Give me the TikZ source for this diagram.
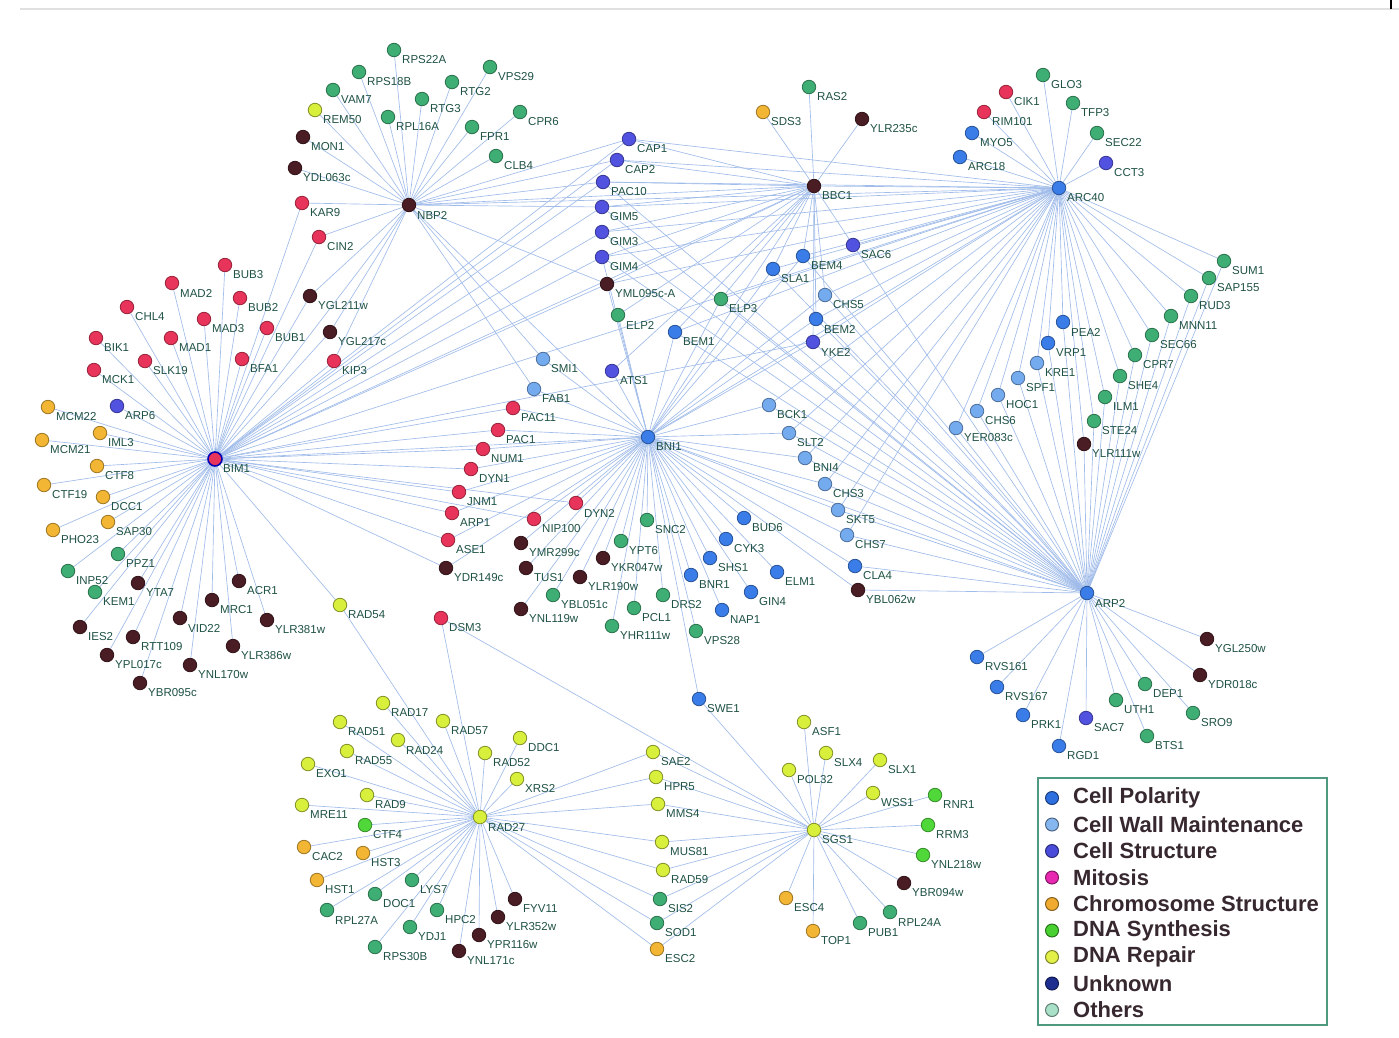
\documentclass[tikz,border=0pt]{standalone}
\usepackage{fontspec}
\newfontfamily\labfont{Liberation Sans}
\usetikzlibrary{backgrounds}
\definecolor{colR}{HTML}{E8345A}
\definecolor{colO}{HTML}{F2B534}
\definecolor{colG}{HTML}{3FAE74}
\definecolor{colU}{HTML}{4A1C24}
\definecolor{colY}{HTML}{D8F03C}
\definecolor{colS}{HTML}{50D83A}
\definecolor{colB}{HTML}{3A7DE8}
\definecolor{colW}{HTML}{74AAEE}
\definecolor{colV}{HTML}{5252E0}
\definecolor{edgec}{HTML}{A0BCEA}
\definecolor{labc}{HTML}{1F5244}
\definecolor{legbox}{HTML}{4F9A7F}
\definecolor{legtext}{HTML}{36282E}
\definecolor{lgB}{HTML}{2E6FE0}
\definecolor{lgW}{HTML}{86B6F0}
\definecolor{lgV}{HTML}{4B4BDA}
\definecolor{lgM}{HTML}{E828B0}
\definecolor{lgO}{HTML}{F0AA30}
\definecolor{lgS}{HTML}{48D030}
\definecolor{lgY}{HTML}{E2F048}
\definecolor{lgU}{HTML}{1E2E90}
\definecolor{lgT}{HTML}{A8E0C8}
\tikzset{
 dot/.style={circle,inner sep=0pt,minimum size=13.5pt,line width=0.8pt},
 tR/.style={dot,fill=colR,draw=colR!65!black},
 tO/.style={dot,fill=colO,draw=colO!65!black},
 tG/.style={dot,fill=colG,draw=colG!65!black},
 tU/.style={dot,fill=colU,draw=colU!65!black},
 tY/.style={dot,fill=colY,draw=colY!60!black},
 tS/.style={dot,fill=colS,draw=colS!65!black},
 tB/.style={dot,fill=colB,draw=colB!65!black},
 tW/.style={dot,fill=colW,draw=colW!65!black},
 tV/.style={dot,fill=colV,draw=colV!65!black},
 tH/.style={dot,fill=colR,draw=blue!70!black,line width=1.6pt,minimum size=14pt},
 lab/.style={anchor=west,inner sep=0pt,text=labc,font=\labfont\fontsize{11.5}{12}\selectfont},
 edge/.style={draw=edgec,line width=0.65pt},
 ldot/.style={circle,inner sep=0pt,minimum size=13pt,line width=1pt},
 legt/.style={anchor=west,inner sep=0pt,text=legtext,font=\labfont\bfseries\fontsize{22}{24}\selectfont},
}
\newcommand\GN[5]{\node[t#4] (#1) at (#2,#3) {}; \node[lab] (l#1) at (#2+8,#3+10) {#5};}
\begin{document}
\begin{tikzpicture}[x=1pt,y=-1pt]
\useasboundingbox (0,0) rectangle (1399,1037);
% ---------- BIM1 cluster
\GN{BIM1}{215}{459}{H}{BIM1}
\GN{BUB3}{225}{265}{R}{BUB3}
\GN{MAD2}{172}{283}{R}{MAD2}
\GN{BUB2}{240}{298}{R}{BUB2}
\GN{CHL4}{127}{307}{R}{CHL4}
\GN{MAD3}{204}{319}{R}{MAD3}
\GN{BUB1}{267}{328}{R}{BUB1}
\GN{BIK1}{96}{338}{R}{BIK1}
\GN{MAD1}{171}{338}{R}{MAD1}
\GN{SLK19}{145}{361}{R}{SLK19}
\GN{BFA1}{242}{359}{R}{BFA1}
\GN{MCK1}{94}{370}{R}{MCK1}
\GN{MCM22}{48}{407}{O}{MCM22}
\GN{ARP6}{117}{406}{V}{ARP6}
\GN{IML3}{100}{433}{O}{IML3}
\GN{MCM21}{42}{440}{O}{MCM21}
\GN{CTF8}{97}{466}{O}{CTF8}
\GN{CTF19}{44}{485}{O}{CTF19}
\GN{DCC1}{103}{497}{O}{DCC1}
\GN{SAP30}{108}{522}{O}{SAP30}
\GN{PHO23}{53}{530}{O}{PHO23}
\GN{PPZ1}{118}{554}{G}{PPZ1}
\GN{INP52}{68}{571}{G}{INP52}
\GN{YTA7}{138}{583}{U}{YTA7}
\GN{ACR1}{239}{581}{U}{ACR1}
\GN{KEM1}{95}{592}{G}{KEM1}
\GN{MRC1}{212}{600}{U}{MRC1}
\GN{VID22}{180}{618}{U}{VID22}
\GN{YLR381w}{267}{620}{U}{YLR381w}
\GN{IES2}{80}{627}{U}{IES2}
\GN{RTT109}{133}{637}{U}{RTT109}
\GN{YLR386w}{233}{646}{U}{YLR386w}
\GN{YPL017c}{107}{655}{U}{YPL017c}
\GN{YNL170w}{190}{665}{U}{YNL170w}
\GN{YBR095c}{140}{683}{U}{YBR095c}
\GN{YGL211w}{310}{296}{U}{YGL211w}
\GN{YGL217c}{330}{332}{U}{YGL217c}
\GN{KIP3}{334}{361}{R}{KIP3}
\GN{RAD54}{340}{605}{Y}{RAD54}
% ---------- NBP2 cluster
\GN{NBP2}{409}{205}{U}{NBP2}
\GN{RPS22A}{394}{50}{G}{RPS22A}
\GN{VPS29}{490}{67}{G}{VPS29}
\GN{RPS18B}{359}{72}{G}{RPS18B}
\GN{RTG2}{452}{82}{G}{RTG2}
\GN{VAM7}{333}{90}{G}{VAM7}
\GN{RTG3}{422}{99}{G}{RTG3}
\GN{CPR6}{520}{112}{G}{CPR6}
\GN{REM50}{315}{110}{Y}{REM50}
\GN{RPL16A}{388}{117}{G}{RPL16A}
\GN{FPR1}{472}{127}{G}{FPR1}
\GN{MON1}{303}{137}{U}{MON1}
\GN{CLB4}{496}{156}{G}{CLB4}
\GN{YDL063c}{295}{168}{U}{YDL063c}
\GN{KAR9}{302}{203}{R}{KAR9}
\GN{CIN2}{319}{237}{R}{CIN2}
% ---------- BBC1 cluster
\GN{BBC1}{814}{186}{U}{BBC1}
\GN{RAS2}{809}{87}{G}{RAS2}
\GN{SDS3}{763}{112}{O}{SDS3}
\GN{YLR235c}{862}{119}{U}{YLR235c}
% ---------- middle top
\GN{CAP1}{629}{139}{V}{CAP1}
\GN{CAP2}{617}{160}{V}{CAP2}
\GN{PAC10}{603}{182}{V}{PAC10}
\GN{GIM5}{602}{207}{V}{GIM5}
\GN{GIM3}{602}{232}{V}{GIM3}
\GN{GIM4}{602}{257}{V}{GIM4}
\GN{YMLA}{607}{284}{U}{YML095c-A}
\GN{ELP2}{618}{315}{G}{ELP2}
\GN{ATS1}{612}{371}{V}{ATS1}
\GN{ELP3}{721}{299}{G}{ELP3}
\GN{BEM1}{675}{332}{B}{BEM1}
\GN{SLA1}{773}{269}{B}{SLA1}
\GN{BEM4}{803}{256}{B}{BEM4}
\GN{SAC6}{853}{245}{V}{SAC6}
\GN{CHS5}{825}{295}{W}{CHS5}
\GN{BEM2}{816}{319}{B}{BEM2}
\GN{YKE2}{813}{342}{V}{YKE2}
% ---------- ARC40 cluster
\GN{ARC40}{1059}{188}{B}{ARC40}
\GN{GLO3}{1043}{75}{G}{GLO3}
\GN{CIK1}{1006}{92}{R}{CIK1}
\GN{TFP3}{1073}{103}{G}{TFP3}
\GN{RIM101}{984}{112}{R}{RIM101}
\GN{MYO5}{972}{133}{B}{MYO5}
\GN{SEC22}{1097}{133}{G}{SEC22}
\GN{ARC18}{960}{157}{B}{ARC18}
\GN{CCT3}{1106}{163}{V}{CCT3}
\GN{SUM1}{1224}{261}{G}{SUM1}
\GN{SAP155}{1209}{278}{G}{SAP155}
\GN{RUD3}{1191}{296}{G}{RUD3}
\GN{MNN11}{1171}{316}{G}{MNN11}
\GN{SEC66}{1152}{335}{G}{SEC66}
\GN{CPR7}{1135}{355}{G}{CPR7}
\GN{SHE4}{1120}{376}{G}{SHE4}
\GN{ILM1}{1105}{397}{G}{ILM1}
\GN{STE24}{1094}{421}{G}{STE24}
\GN{YLR111w}{1084}{444}{U}{YLR111w}
\GN{PEA2}{1063}{322}{B}{PEA2}
\GN{VRP1}{1048}{343}{B}{VRP1}
\GN{KRE1}{1037}{363}{W}{KRE1}
\GN{SPF1}{1018}{378}{W}{SPF1}
\GN{HOC1}{998}{395}{W}{HOC1}
\GN{CHS6}{977}{411}{W}{CHS6}
\GN{YER083c}{956}{428}{W}{YER083c}
% ---------- BNI1 cluster
\GN{BNI1}{648}{437}{B}{BNI1}
\GN{SMI1}{543}{359}{W}{SMI1}
\GN{FAB1}{534}{389}{W}{FAB1}
\GN{PAC11}{513}{408}{R}{PAC11}
\GN{PAC1}{498}{430}{R}{PAC1}
\GN{NUM1}{483}{449}{R}{NUM1}
\GN{DYN1}{471}{469}{R}{DYN1}
\GN{JNM1}{459}{492}{R}{JNM1}
\GN{ARP1}{452}{513}{R}{ARP1}
\GN{ASE1}{448}{540}{R}{ASE1}
\GN{DYN2}{576}{503}{R}{DYN2}
\GN{NIP100}{534}{519}{R}{NIP100}
\GN{SNC2}{647}{520}{G}{SNC2}
\GN{BUD6}{744}{518}{B}{BUD6}
\GN{CYK3}{726}{539}{B}{CYK3}
\GN{YPT6}{621}{541}{G}{YPT6}
\GN{YMR299c}{521}{543}{U}{YMR299c}
\GN{YKR047w}{603}{558}{U}{YKR047w}
\GN{SHS1}{710}{558}{B}{SHS1}
\GN{YDR149c}{446}{568}{U}{YDR149c}
\GN{TUS1}{526}{568}{U}{TUS1}
\GN{YLR190w}{580}{577}{U}{YLR190w}
\GN{BNR1}{691}{575}{B}{BNR1}
\GN{ELM1}{777}{572}{B}{ELM1}
\GN{GIN4}{751}{592}{B}{GIN4}
\GN{YBL051c}{553}{595}{G}{YBL051c}
\GN{DRS2}{663}{595}{G}{DRS2}
\GN{PCL1}{634}{608}{G}{PCL1}
\GN{NAP1}{722}{610}{B}{NAP1}
\GN{YNL119w}{521}{609}{U}{YNL119w}
\GN{DSM3}{441}{618}{R}{DSM3}
\GN{YHR111w}{612}{626}{G}{YHR111w}
\GN{VPS28}{696}{631}{G}{VPS28}
\GN{BCK1}{769}{405}{W}{BCK1}
\GN{SLT2}{789}{433}{W}{SLT2}
\GN{BNI4}{805}{458}{W}{BNI4}
\GN{CHS3}{825}{484}{W}{CHS3}
\GN{SKT5}{838}{510}{W}{SKT5}
\GN{CHS7}{847}{535}{W}{CHS7}
\GN{CLA4}{855}{566}{B}{CLA4}
\GN{YBL062w}{858}{590}{U}{YBL062w}
\GN{SWE1}{699}{699}{B}{SWE1}
% ---------- ARP2 cluster
\GN{ARP2}{1087}{593}{B}{ARP2}
\GN{RVS161}{977}{657}{B}{RVS161}
\GN{RVS167}{997}{687}{B}{RVS167}
\GN{PRK1}{1023}{715}{B}{PRK1}
\GN{SAC7}{1086}{718}{V}{SAC7}
\GN{RGD1}{1059}{746}{B}{RGD1}
\GN{YGL250w}{1207}{639}{U}{YGL250w}
\GN{YDR018c}{1200}{675}{U}{YDR018c}
\GN{DEP1}{1145}{684}{G}{DEP1}
\GN{UTH1}{1116}{700}{G}{UTH1}
\GN{SRO9}{1193}{713}{G}{SRO9}
\GN{BTS1}{1147}{736}{G}{BTS1}
% ---------- RAD27 cluster
\GN{RAD27}{480}{817}{Y}{RAD27}
\GN{RAD17}{383}{703}{Y}{RAD17}
\GN{RAD51}{340}{722}{Y}{RAD51}
\GN{RAD57}{443}{721}{Y}{RAD57}
\GN{RAD24}{398}{740}{Y}{RAD24}
\GN{DDC1}{520}{738}{Y}{DDC1}
\GN{RAD55}{347}{751}{Y}{RAD55}
\GN{RAD52}{485}{753}{Y}{RAD52}
\GN{EXO1}{308}{764}{Y}{EXO1}
\GN{XRS2}{517}{779}{Y}{XRS2}
\GN{RAD9}{367}{795}{Y}{RAD9}
\GN{MRE11}{302}{805}{Y}{MRE11}
\GN{CTF4}{365}{825}{S}{CTF4}
\GN{CAC2}{304}{847}{O}{CAC2}
\GN{HST3}{363}{853}{O}{HST3}
\GN{HST1}{317}{880}{O}{HST1}
\GN{LYS7}{412}{880}{G}{LYS7}
\GN{DOC1}{375}{894}{G}{DOC1}
\GN{FYV11}{515}{899}{U}{FYV11}
\GN{RPL27A}{327}{910}{G}{RPL27A}
\GN{HPC2}{437}{910}{G}{HPC2}
\GN{YLR352w}{498}{917}{U}{YLR352w}
\GN{YDJ1}{410}{927}{G}{YDJ1}
\GN{YPR116w}{479}{935}{U}{YPR116w}
\GN{RPS30B}{375}{947}{G}{RPS30B}
\GN{YNL171c}{459}{951}{U}{YNL171c}
\GN{SAE2}{653}{752}{Y}{SAE2}
\GN{HPR5}{656}{777}{Y}{HPR5}
\GN{MMS4}{658}{804}{Y}{MMS4}
\GN{MUS81}{662}{842}{Y}{MUS81}
\GN{RAD59}{663}{870}{Y}{RAD59}
\GN{SIS2}{660}{899}{G}{SIS2}
\GN{SOD1}{657}{923}{G}{SOD1}
\GN{ESC2}{657}{949}{O}{ESC2}
% ---------- SGS1 cluster
\GN{SGS1}{814}{830}{Y}{SGS1}
\GN{ASF1}{804}{722}{Y}{ASF1}
\GN{SLX4}{826}{753}{Y}{SLX4}
\GN{SLX1}{880}{760}{Y}{SLX1}
\GN{POL32}{789}{770}{Y}{POL32}
\GN{WSS1}{873}{793}{Y}{WSS1}
\GN{RNR1}{935}{795}{S}{RNR1}
\GN{RRM3}{928}{825}{S}{RRM3}
\GN{YNL218w}{923}{855}{S}{YNL218w}
\GN{YBR094w}{904}{883}{U}{YBR094w}
\GN{ESC4}{786}{898}{O}{ESC4}
\GN{RPL24A}{890}{912}{G}{RPL24A}
\GN{PUB1}{860}{923}{G}{PUB1}
\GN{TOP1}{813}{931}{O}{TOP1}
% ---------- legend
\node[draw=legbox,line width=1.8pt,minimum width=289pt,minimum height=247pt,anchor=north west,inner sep=0pt] (legend) at (1037,777) {};
\foreach \c/\t [count=\i] in {lgB/Cell Polarity,lgW/Cell Wall Maintenance,lgV/Cell Structure,lgM/Mitosis,lgO/Chromosome Structure,lgS/DNA Synthesis,lgY/DNA Repair,lgU/Unknown,lgT/Others}{
  \node[ldot,fill=\c,draw=\c!55!black] (ld\i) at (1052,771.5+26.5*\i) {};
  \node[legt] (lt\i) at (1073,771.5+26.5*\i) {\t};
}
% ---------- edges
\begin{pgfonlayer}{background}
\fill[white] (0,0) rectangle (1399,1037);
\draw[black!12,line width=2.5pt] (20,9) -- (1399,9);
\draw[black,line width=2pt] (1391,0) -- (1391,9);
\foreach \n in {BUB3,MAD2,BUB2,CHL4,MAD3,BUB1,BIK1,MAD1,SLK19,BFA1,MCK1,MCM22,ARP6,IML3,MCM21,CTF8,CTF19,DCC1,SAP30,PHO23,PPZ1,INP52,YTA7,ACR1,KEM1,MRC1,VID22,YLR381w,IES2,RTT109,YLR386w,YPL017c,YNL170w,YBR095c,YGL211w,YGL217c,KIP3,KAR9,CIN2,RAD54,PAC11,PAC1,NUM1,DYN1,JNM1,ARP1,ASE1,YDR149c,NIP100,DYN2,CAP1,CAP2,PAC10,GIM5,GIM3,GIM4,YMLA,BBC1,ARC40,YKE2,NBP2,BNI1}
  \draw[edge] (BIM1) -- (\n);
\foreach \n in {RPS22A,VPS29,RPS18B,RTG2,VAM7,RTG3,CPR6,REM50,RPL16A,FPR1,MON1,CLB4,YDL063c,KAR9,CIN2,YGL211w,YGL217c,KIP3,CAP1,CAP2,PAC10,GIM5,YMLA,SMI1,FAB1,BBC1,ARC40,BNI1}
  \draw[edge] (NBP2) -- (\n);
\foreach \n in {RAS2,SDS3,YLR235c,CAP1,CAP2,PAC10,GIM5,GIM3,GIM4,YMLA,ELP3,ELP2,SLA1,BEM4,SAC6,CHS5,BEM2,YKE2,BEM1,ATS1,BNI1,ARC40}
  \draw[edge] (BBC1) -- (\n);
\foreach \n in {GLO3,CIK1,TFP3,RIM101,MYO5,SEC22,ARC18,CCT3,SUM1,SAP155,RUD3,MNN11,SEC66,CPR7,SHE4,ILM1,STE24,YLR111w,PEA2,VRP1,KRE1,SPF1,HOC1,CHS6,YER083c,CAP1,CAP2,PAC10,GIM5,GIM3,GIM4,YMLA,SAC6,BEM4,SLA1,CHS5,BEM2,YKE2,ELP3,BEM1,BCK1,SLT2,BNI4,CHS3,SKT5,CHS7,BNI1}
  \draw[edge] (ARC40) -- (\n);
\foreach \n in {RVS161,RVS167,PRK1,SAC7,RGD1,YGL250w,YDR018c,DEP1,UTH1,SRO9,BTS1,SUM1,SAP155,RUD3,MNN11,SEC66,CPR7,SHE4,ILM1,STE24,YLR111w,PEA2,VRP1,KRE1,SPF1,HOC1,CHS6,YER083c,BCK1,SLT2,BNI4,CHS3,SKT5,CHS7,CLA4,YBL062w,SAC6,BEM4,SLA1,CHS5,BEM2,YKE2,GIM5,GIM3,GIM4,PAC10,ELP3,BEM1,BNI1}
  \draw[edge] (ARP2) -- (\n);
\foreach \n in {ATS1,SMI1,FAB1,PAC11,PAC1,NUM1,DYN1,JNM1,ARP1,ASE1,DYN2,NIP100,SNC2,BUD6,CYK3,YPT6,YMR299c,YKR047w,SHS1,YDR149c,TUS1,YLR190w,BNR1,ELM1,GIN4,YBL051c,DRS2,PCL1,NAP1,YNL119w,YHR111w,VPS28,BCK1,SLT2,BNI4,CHS3,SKT5,CHS7,CLA4,YBL062w,BEM1,ELP2,ELP3,SLA1,BEM4,CHS5,BEM2,YKE2,GIM4,YMLA,SWE1}
  \draw[edge] (BNI1) -- (\n);
\foreach \n in {RAD17,RAD51,RAD57,RAD24,DDC1,RAD55,RAD52,EXO1,XRS2,RAD9,MRE11,CTF4,CAC2,HST3,HST1,LYS7,DOC1,FYV11,RPL27A,HPC2,YLR352w,YDJ1,YPR116w,RPS30B,YNL171c,SAE2,HPR5,MMS4,MUS81,RAD59,SIS2,SOD1,ESC2,RAD54,DSM3}
  \draw[edge] (RAD27) -- (\n);
\foreach \n in {ASF1,SLX4,SLX1,POL32,WSS1,RNR1,RRM3,YNL218w,YBR094w,ESC4,RPL24A,PUB1,TOP1,SAE2,HPR5,MMS4,MUS81,RAD59,SIS2,SOD1,ESC2,SWE1,DSM3}
  \draw[edge] (SGS1) -- (\n);
\end{pgfonlayer}
\end{tikzpicture}
\end{document}
